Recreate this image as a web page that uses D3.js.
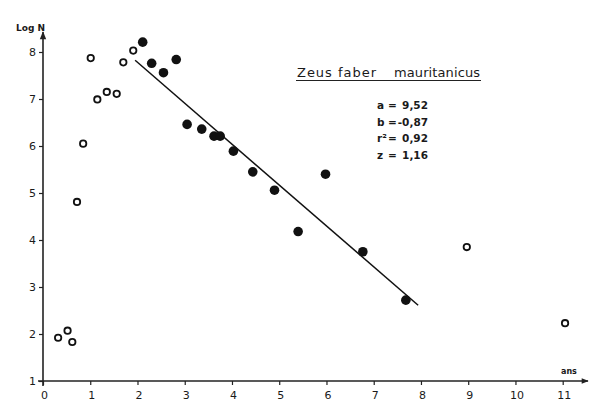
<!DOCTYPE html>
<html>
<head>
<meta charset="utf-8">
<script src="https://cdn.jsdelivr.net/npm/d3@7"></script>
<style>
  html, body { margin: 0; padding: 0; background: #fff; }
  svg { display: block; }
  text { font-family: "DejaVu Sans", "Liberation Sans", sans-serif; fill: #1a1a1a; }
</style>
</head>
<body>
<div id="chart"></div>
<script>
// ---- data ----
const openAges  = [0.32, 0.52, 0.62, 0.72, 0.85, 1.01, 1.15, 1.35, 1.56, 1.70, 1.91, 8.97, 11.05];
const openLogN  = [1.92, 2.07, 1.83, 4.81, 6.05, 7.87, 6.99, 7.15, 7.11, 7.78, 8.03, 3.85, 2.23];
const fillAges  = [2.11, 2.30, 2.55, 2.82, 3.05, 3.36, 3.62, 3.75, 4.03, 4.44, 4.90, 5.40, 5.98, 6.77, 7.68];
const fillLogN  = [8.21, 7.76, 7.56, 7.84, 6.46, 6.36, 6.21, 6.21, 5.89, 5.45, 5.06, 4.18, 5.40, 3.75, 2.72];
const xTicks = [0, 1, 2, 3, 4, 5, 6, 7, 8, 9, 10, 11];
const yTicks = [1, 2, 3, 4, 5, 6, 7, 8];
const regA = 9.52, regB = -0.87;
const regRange = [1.95, 7.94];
const title1 = "Zeus faber", title2 = "mauritanicus";
const statLabels = ["a", "b", "r²", "z"];
const statValues = ["9,52", "-0,87", "0,92", "1,16"];
const xLabel = "ans", yLabel = "Log N";

// ---- layout ----
const W = 600, H = 418;
const svg = d3.select("#chart").append("svg").attr("width", W).attr("height", H);
const x = d3.scaleLinear().domain([0, 11]).range([43, 562.7]);
const y = d3.scaleLinear().domain([1, 8]).range([381, 52]);
const ink = "#222";

svg.append("defs").append("marker")
  .attr("id", "arr").attr("viewBox", "0 0 10 10").attr("refX", 9).attr("refY", 5)
  .attr("markerWidth", 7).attr("markerHeight", 5).attr("orient", "auto")
  .append("path").attr("d", "M0,1 L10,5 L0,9 Z").attr("fill", ink);

svg.append("line").attr("x1", 38).attr("x2", 588).attr("y1", y(1)).attr("y2", y(1))
  .attr("stroke", ink).attr("stroke-width", 1.4).attr("marker-end", "url(#arr)");
svg.append("line").attr("x1", x(0)).attr("x2", x(0)).attr("y1", 386).attr("y2", 32)
  .attr("stroke", ink).attr("stroke-width", 1.6).attr("marker-end", "url(#arr)");

const xAxis = svg.append("g").attr("transform", `translate(0,${y(1)})`)
  .call(d3.axisBottom(x).tickValues(xTicks).tickSize(4).tickPadding(6).tickFormat(d3.format("d")));
xAxis.select(".domain").remove();
xAxis.selectAll("line").attr("stroke", ink).attr("stroke-width", 1.2);
xAxis.selectAll("text").attr("font-size", 11).attr("fill", "#1a1a1a").attr("dx", 1);

const yAxis = svg.append("g").attr("transform", `translate(${x(0)},0)`)
  .call(d3.axisLeft(y).tickValues(yTicks).tickSize(4).tickPadding(3).tickFormat(d3.format("d")));
yAxis.select(".domain").remove();
yAxis.selectAll("line").attr("stroke", ink).attr("stroke-width", 1.2);
yAxis.selectAll("text").attr("font-size", 11).attr("fill", "#1a1a1a");

svg.append("text").attr("x", 16).attr("y", 31).attr("font-size", 9).attr("font-weight", "bold").text(yLabel);
svg.append("text").attr("x", 561).attr("y", 374).attr("font-size", 8).attr("font-weight", "bold").text(xLabel);

// regression line
svg.append("line")
  .attr("x1", x(regRange[0])).attr("y1", y(regA + regB * regRange[0]))
  .attr("x2", x(regRange[1])).attr("y2", y(regA + regB * regRange[1]))
  .attr("stroke", "#111").attr("stroke-width", 1.5);

// points
const openData = openAges.map((a, i) => ({ a, v: openLogN[i] }));
const fillData = fillAges.map((a, i) => ({ a, v: fillLogN[i] }));
svg.append("g").selectAll("circle").data(openData).join("circle")
  .attr("cx", d => x(d.a)).attr("cy", d => y(d.v)).attr("r", 3.2)
  .attr("fill", "#fff").attr("stroke", "#111").attr("stroke-width", 1.8);
svg.append("g").selectAll("circle").data(fillData).join("circle")
  .attr("cx", d => x(d.a)).attr("cy", d => y(d.v)).attr("r", 4.8)
  .attr("fill", "#111");

// title
const tFont = "'DejaVu Sans Mono', 'Liberation Mono', monospace";
svg.append("text").attr("x", 297).attr("y", 77).attr("font-size", 13).attr("font-family", tFont)
  .attr("textLength", 79).attr("lengthAdjust", "spacing").text(title1);
svg.append("text").attr("x", 394).attr("y", 77).attr("font-size", 13).attr("font-family", tFont)
  .attr("textLength", 86).attr("lengthAdjust", "spacing").text(title2);
svg.append("line").attr("x1", 296).attr("x2", 481).attr("y1", 80.5).attr("y2", 80.5)
  .attr("stroke", "#222").attr("stroke-width", 1.2);

// stats
const stats = svg.append("g").attr("font-size", 10.5).attr("font-weight", "bold");
statLabels.forEach((l, i) => {
  const yy = 109 + i * 16.5;
  stats.append("text").attr("x", 377).attr("y", yy).text(l);
  stats.append("text").attr("x", 388).attr("y", yy).text("=");
  stats.append("text").attr("x", 428).attr("y", yy).attr("text-anchor", "end").text(statValues[i]);
});
</script>
</body>
</html>
